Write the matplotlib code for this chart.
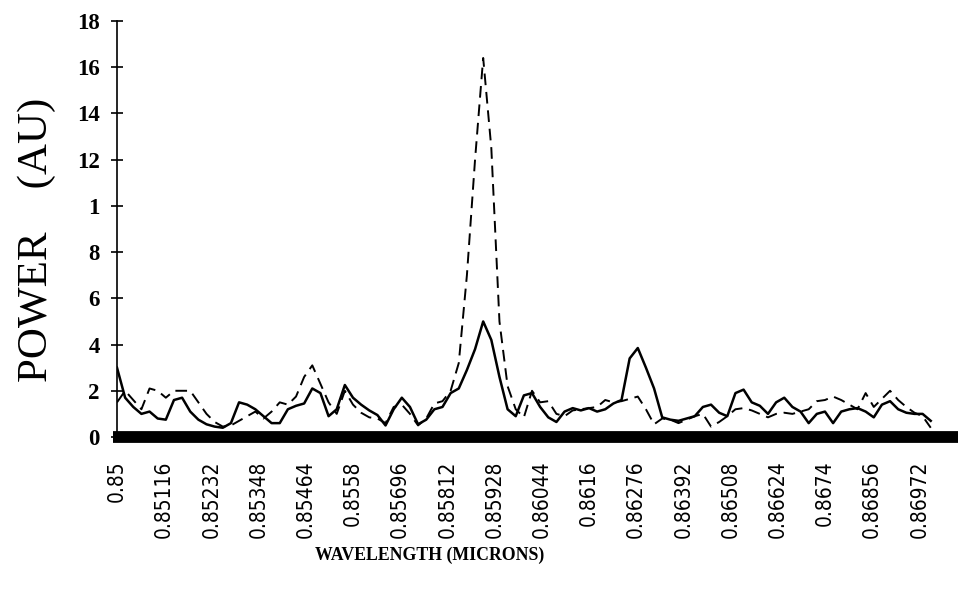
import numpy as np
import matplotlib
matplotlib.use('Agg')
import matplotlib.pyplot as plt
from matplotlib import font_manager

# wavelength grid (microns), one reading every 0.0002
wavelength = np.round(0.85 + 0.0002 * np.arange(101), 4)

solid = [3.0, 1.7, 1.3, 1.0, 1.1, 0.8, 0.75, 1.6, 1.7, 1.1,
         0.75, 0.55, 0.45, 0.4, 0.6, 1.5, 1.4, 1.2, 0.9, 0.6,
         0.6, 1.2, 1.35, 1.45, 2.1, 1.9, 0.9, 1.2, 2.25, 1.7,
         1.4, 1.15, 0.95, 0.5, 1.2, 1.7, 1.3, 0.55, 0.75, 1.2,
         1.3, 1.9, 2.1, 2.9, 3.8, 5.0, 4.2, 2.6, 1.2, 0.9,
         1.8, 1.9, 1.3, 0.85, 0.65, 1.1, 1.25, 1.15, 1.25, 1.1,
         1.2, 1.45, 1.6, 3.4, 3.85, 3.0, 2.1, 0.85, 0.75, 0.7,
         0.8, 0.9, 1.3, 1.4, 1.05, 0.9, 1.9, 2.05, 1.5, 1.35,
         1.0, 1.5, 1.7, 1.3, 1.1, 0.6, 1.0, 1.1, 0.6, 1.1,
         1.2, 1.25, 1.1, 0.85, 1.4, 1.55, 1.2, 1.05, 1.0, 1.0,
         0.7]

dashed = [1.5, 2.0, 1.6, 1.2, 2.1, 2.0, 1.7, 2.0, 2.0, 2.0,
          1.5, 1.0, 0.65, 0.45, 0.5, 0.7, 0.9, 1.1, 0.8, 1.1,
          1.5, 1.4, 1.75, 2.6, 3.1, 2.3, 1.5, 1.0, 2.0, 1.4,
          1.05, 0.85, 0.8, 0.6, 1.3, 1.4, 1.0, 0.5, 0.8, 1.45,
          1.55, 2.0, 3.2, 7.0, 12.0, 16.4, 12.5, 5.0, 2.2, 1.2,
          0.85, 2.0, 1.5, 1.55, 1.0, 0.9, 1.15, 1.2, 1.25, 1.3,
          1.6, 1.5, 1.55, 1.65, 1.75, 1.2, 0.55, 0.8, 0.75, 0.6,
          0.75, 0.9, 1.0, 0.45, 0.65, 0.9, 1.2, 1.25, 1.15, 1.0,
          0.85, 1.0, 1.05, 1.0, 1.1, 1.2, 1.55, 1.6, 1.75, 1.6,
          1.4, 1.2, 1.9, 1.3, 1.65, 2.0, 1.6, 1.3, 1.05, 0.9,
          0.4]

xtick_labels = ['0.85', '0.85116', '0.85232', '0.85348', '0.85464', '0.8558',
                '0.85696', '0.85812', '0.85928', '0.86044', '0.8616', '0.86276',
                '0.86392', '0.86508', '0.86624', '0.8674', '0.86856', '0.86972']
xtick_pos = [float(s) for s in xtick_labels]
ytick_pos = [0, 2, 4, 6, 8, 10, 12, 14, 16, 18]
ytick_labels = ['0', '2', '4', '6', '8', '1', '12', '14', '16', '18']

# pick a narrow sans if one is installed
names = {f.name for f in font_manager.fontManager.ttflist}
if 'Liberation Sans Narrow' in names:
    narrow = dict(family='Liberation Sans Narrow', fontsize=17)
else:
    narrow = dict(family='DejaVu Sans', stretch='condensed', fontsize=15)

fig = plt.figure(figsize=(9.58, 6.04), dpi=100)
ax = fig.add_axes([117 / 958, 1 - 437 / 604, 1 - 117 / 958, (437 - 21) / 604])

ax.plot(wavelength, solid, color='black', lw=1.8)
ax.plot(wavelength, dashed, color='black', lw=1.4, dashes=(6, 3.5))

ax.set_xlim(0.85, 0.87067)
ax.set_ylim(0, 18)

# thick zero line
ax.plot([0.8499, 0.87067], [0, 0], color='black', lw=8.5,
        solid_capstyle='butt', clip_on=False)

for s in ['top', 'right', 'bottom']:
    ax.spines[s].set_visible(False)
ax.spines['left'].set_linewidth(1.2)

ax.set_yticks(ytick_pos)
ax.set_yticklabels(ytick_labels, family='Liberation Serif', weight='bold', fontsize=16.5)
ax.tick_params(axis='y', direction='inout', length=9, width=1.2, pad=8)

ax.set_xticks(xtick_pos)
ax.set_xticklabels(xtick_labels, rotation=90, **narrow)
ax.tick_params(axis='x', length=0, pad=17)

fig.text(37 / 958, 1 - 240 / 604, 'POWER    (AU)', rotation=90, ha='center', va='center',
         family='Liberation Serif', fontsize=31)
fig.text(430 / 958, 1 - 555 / 604, 'WAVELENGTH (MICRONS)', ha='center', va='center',
         family='Liberation Serif', weight='bold', fontsize=12.8)

fig.savefig('out.png', dpi=100)
